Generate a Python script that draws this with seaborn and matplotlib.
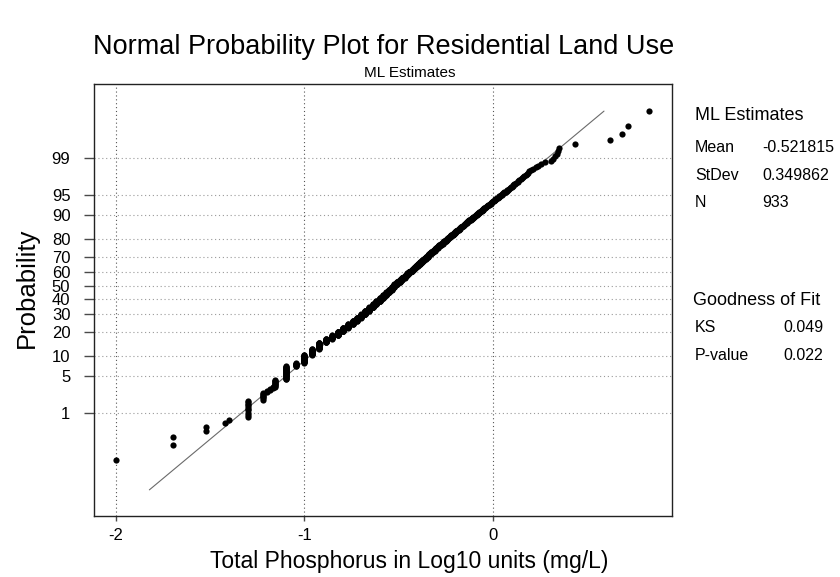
import numpy as np
import pandas as pd
import matplotlib
matplotlib.use("Agg")
import matplotlib.pyplot as plt
import seaborn as sns
from statistics import NormalDist

# ---- data: total phosphorus concentrations (mg/L), residential land use ----
# frequency table of the low end (values reported below 0.16 mg/L)
low_values = [0.01, 0.02, 0.03, 0.038, 0.04, 0.05, 0.06, 0.063, 0.066, 0.068,
              0.07, 0.08, 0.09, 0.10, 0.11, 0.12, 0.13, 0.14, 0.15]
low_counts = [1, 2, 2, 1, 1, 10, 7, 2, 2, 2,
              10, 26, 8, 22, 20, 24, 15, 15, 18]

# counts for each 0.01 mg/L step from 0.16 to 1.11 mg/L
mid_start, mid_step = 0.16, 0.01
mid_counts = [18, 19, 18, 17, 20, 21, 21, 20, 20, 20, 19, 19,
              19, 18, 17, 17, 15, 14, 14, 14, 13, 13, 12, 12,
              11, 11, 11, 11, 10, 9, 10, 9, 8, 9, 7, 7,
              7, 7, 7, 6, 6, 5, 6, 5, 6, 5, 4, 5,
              5, 4, 4, 4, 4, 4, 4, 3, 3, 4, 3, 3,
              3, 3, 3, 2, 3, 2, 3, 2, 2, 2, 2, 2,
              2, 2, 2, 1, 2, 2, 1, 2, 1, 2, 1, 2,
              1, 1, 2, 1, 1, 1, 1, 2, 1, 1, 1, 1]

# single observations above 1.11 mg/L
high_values = [1.12, 1.13, 1.14, 1.15, 1.17, 1.18, 1.19, 1.20, 1.22, 1.23,
               1.24, 1.26, 1.27, 1.28, 1.30, 1.31, 1.33, 1.35, 1.36, 1.38,
               1.40, 1.42, 1.44, 1.46, 1.49, 1.51, 1.54, 1.56, 1.60, 1.64,
               1.69, 1.74, 1.79, 1.89, 2.02, 2.08, 2.12, 2.18, 2.21, 2.25,
               2.72, 4.18, 4.85, 5.22, 6.75]

# maximum-likelihood normal fit of log10 values and goodness of fit
ml_mean = -0.521815
ml_stdev = 0.349862
ks_stat = 0.049
ks_pvalue = 0.022

prob_ticks = [1, 5, 10, 20, 30, 40, 50, 60, 70, 80, 90, 95, 99]
x_ticks = [-2, -1, 0]

# ---- assemble the sample and Benard median-rank plotting positions ----
mid_values = np.round(mid_start + mid_step * np.arange(len(mid_counts)), 2)
conc = np.concatenate([np.repeat(low_values, low_counts),
                       np.repeat(mid_values, mid_counts),
                       np.asarray(high_values)])
log_tp = np.sort(np.log10(conc))
n_obs = len(log_tp)
rank = np.arange(1, n_obs + 1)
pct = (rank - 0.3) / (n_obs + 0.4) * 100
df = pd.DataFrame({"log_tp": log_tp, "pct": pct})

nd = NormalDist()


def probit(p):
    shape = np.shape(p)
    p = np.atleast_1d(np.asarray(p, dtype=float)).ravel()
    out = np.full(p.shape, np.nan)
    ok = np.isfinite(p)
    q = np.clip(p[ok] / 100.0, 1e-12, 1 - 1e-12)
    out[ok] = [nd.inv_cdf(v) for v in q]
    return out.reshape(shape)


def inv_probit(z):
    shape = np.shape(z)
    z = np.atleast_1d(np.asarray(z, dtype=float)).ravel()
    out = np.full(z.shape, np.nan)
    ok = np.isfinite(z)
    out[ok] = [nd.cdf(v) * 100.0 for v in z[ok]]
    return out.reshape(shape)


# fitted normal line, drawn across the plotted probability span
fit_pct = np.array([0.01, 99.925])
fit_x = ml_mean + ml_stdev * probit(fit_pct)
fit_df = pd.DataFrame({"x": fit_x, "pct": fit_pct})

# ---- figure ----
sns.set_theme(style="white")
plt.rcParams["font.family"] = ["Liberation Sans", "DejaVu Sans"]
plt.rcParams["text.color"] = "black"
plt.rcParams["axes.labelcolor"] = "black"
plt.rcParams["xtick.color"] = "black"
plt.rcParams["ytick.color"] = "black"

fig = plt.figure(figsize=(8.4, 5.77), dpi=100)
ax = fig.add_axes([94 / 840, 1 - 516 / 577, 578 / 840, 432 / 577])

ax.set_yscale("function", functions=(probit, inv_probit))

sns.lineplot(data=fit_df, x="x", y="pct", ax=ax, color="#6a6a6a",
             linewidth=0.8, sort=False, estimator=None)
sns.scatterplot(data=df, x="log_tp", y="pct", ax=ax, color="black",
                marker="o", s=20, linewidth=0, zorder=3)

ax.set_xlim(-2.1167, 0.9496)
ax.set_ylim(inv_probit(-4.195), inv_probit(3.668))

ax.set_xticks(x_ticks)
ax.set_xticklabels([str(t) for t in x_ticks])
ax.set_yticks(prob_ticks)
ax.set_yticklabels([str(t) for t in prob_ticks])
ax.yaxis.set_minor_locator(matplotlib.ticker.NullLocator())

ax.tick_params(axis="y", which="major", direction="out", length=7, width=1,
               color="#4a4a4a", pad=10, labelsize=12, labelcolor="black", left=True)
ax.tick_params(axis="x", which="major", direction="out", length=3.5, width=1,
               color="#4a4a4a", pad=5, labelsize=12, labelcolor="black", bottom=True)

ax.grid(False)
for t in prob_ticks:
    ax.axhline(t, color="#9a9a9a", linewidth=0.8, linestyle=(0, (1, 2.5)), zorder=1)
for t in x_ticks:
    ax.axvline(t, color="#555555", linewidth=0.8, linestyle=(0, (1, 2.5)), zorder=1)

for sp in ax.spines.values():
    sp.set_color("#222222")
    sp.set_linewidth(1)
    sp.set_visible(True)

ax.set_xlabel("Total Phosphorus in Log10 units (mg/L)", fontsize=16.5)
ax.set_ylabel("Probability", fontsize=18.5)
ax.xaxis.set_label_coords(0.545, -0.106)
ax.xaxis.label.set_va("center")
ax.yaxis.set_label_coords(-0.116, 0.528)
ax.yaxis.label.set_va("center")


def fx(px):
    return px / 840


def fy(py):
    return 1 - py / 577


fig.text(fx(384), fy(47), "Normal Probability Plot for Residential Land Use",
         ha="center", va="center", fontsize=19.5)
fig.text(fx(410), fy(73), "ML Estimates", ha="center", va="center", fontsize=11)

# side panel with fit statistics
fig.text(fx(695), fy(116), "ML Estimates", ha="left", va="center", fontsize=13)
fig.text(fx(695), fy(147), "Mean", ha="left", va="center", fontsize=11.5)
fig.text(fx(762), fy(147), f"{ml_mean:.6f}", ha="left", va="center", fontsize=11.5)
fig.text(fx(695), fy(176), "StDev", ha="left", va="center", fontsize=11.5)
fig.text(fx(762), fy(176), f"{ml_stdev:.6f}", ha="left", va="center", fontsize=11.5)
fig.text(fx(695), fy(203), "N", ha="left", va="center", fontsize=11.5)
fig.text(fx(762), fy(203), f"{n_obs}", ha="left", va="center", fontsize=11.5)

fig.text(fx(693), fy(300), "Goodness of Fit", ha="left", va="center", fontsize=13)
fig.text(fx(695), fy(327), "KS", ha="left", va="center", fontsize=11.5)
fig.text(fx(823), fy(327), f"{ks_stat:.3f}", ha="right", va="center", fontsize=11.5)
fig.text(fx(695), fy(355), "P-value", ha="left", va="center", fontsize=11.5)
fig.text(fx(823), fy(355), f"{ks_pvalue:.3f}", ha="right", va="center", fontsize=11.5)

fig.savefig("out.png", dpi=100, facecolor="white")
